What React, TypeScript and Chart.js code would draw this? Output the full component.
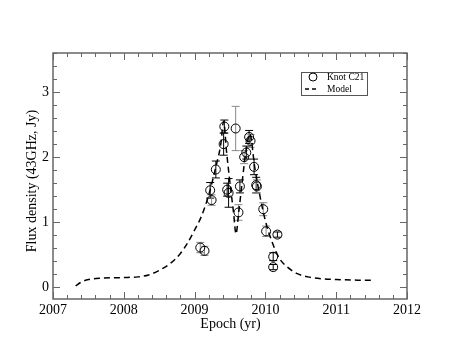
import React, { useEffect, useRef } from "react";
import { Chart, registerables } from "chart.js";

Chart.register(...registerables);

// Observed knot C21 flux densities
const obsEpoch = [2009.08, 2009.14, 2009.22, 2009.24, 2009.30, 2009.41, 2009.42, 2009.46, 2009.48, 2009.58, 2009.62, 2009.64, 2009.70, 2009.73, 2009.77, 2009.79, 2009.84, 2009.87, 2009.88, 2009.97, 2010.01, 2010.17, 2010.11, 2010.11];
const obsFlux = [0.61, 0.56, 1.49, 1.34, 1.81, 2.20, 2.47, 1.50, 1.45, 2.44, 1.15, 1.55, 2.00, 2.07, 2.31, 2.25, 1.85, 1.57, 1.55, 1.20, 0.86, 0.81, 0.47, 0.31];
const obsErr = [0.08, 0.07, 0.12, 0.08, 0.13, 0.17, 0.10, 0.10, 0.22, 0.34, 0.12, 0.10, 0.10, 0.10, 0.10, 0.10, 0.12, 0.12, 0.10, 0.10, 0.08, 0.04, 0.06, 0.04];
const obsErrGrey = [1, 1, 0, 1, 0, 0, 0, 0, 0, 1, 1, 0, 1, 0, 0, 1, 0, 0, 1, 1, 1, 0, 0, 0];

// Model light curve
const modelEpoch = [2007.32, 2007.40, 2007.50, 2007.70, 2008.00, 2008.20, 2008.35, 2008.50, 2008.65, 2008.80, 2008.90, 2009.00, 2009.10, 2009.20, 2009.30, 2009.37, 2009.41, 2009.45, 2009.50, 2009.55, 2009.585, 2009.62, 2009.67, 2009.72, 2009.78, 2009.85, 2009.92, 2010.00, 2010.10, 2010.20, 2010.30, 2010.45, 2010.60, 2010.80, 2011.00, 2011.30, 2011.52];
const modelFlux = [0.02, 0.08, 0.12, 0.14, 0.15, 0.16, 0.19, 0.26, 0.36, 0.52, 0.68, 0.88, 1.10, 1.42, 1.85, 2.20, 2.55, 2.10, 1.60, 1.15, 0.82, 1.12, 1.60, 2.05, 2.36, 1.84, 1.42, 1.02, 0.68, 0.44, 0.32, 0.21, 0.16, 0.13, 0.12, 0.11, 0.11];

const xTickValues = [2007, 2008, 2009, 2010, 2011, 2012];
const yTickValues = [0, 1, 2, 3];

const xTitle = "Epoch (yr)";
const yTitle = "Flux density (43GHz, Jy)";
const legendObs = "Knot C21";
const legendModel = "Model";

const SERIF = "'Liberation Serif', 'Times New Roman', serif";
const AXIS_COLOR = "#666666";

const errorBarPlugin = {
  id: "errorBars",
  beforeDatasetsDraw(chart: any) {
    const ctx = chart.ctx;
    const xs = chart.scales.x;
    const ys = chart.scales.y;
    ctx.save();
    ctx.lineWidth = 1;
    for (let i = 0; i < obsEpoch.length; i++) {
      const px = xs.getPixelForValue(obsEpoch[i]);
      const top = ys.getPixelForValue(obsFlux[i] + obsErr[i]);
      const bot = ys.getPixelForValue(obsFlux[i] - obsErr[i]);
      ctx.strokeStyle = obsErrGrey[i] ? "#888888" : "#000000";
      ctx.beginPath();
      ctx.moveTo(px, top);
      ctx.lineTo(px, bot);
      ctx.moveTo(px - 4, top);
      ctx.lineTo(px + 4, top);
      ctx.moveTo(px - 4, bot);
      ctx.lineTo(px + 4, bot);
      ctx.stroke();
    }
    ctx.restore();
  },
};

const framePlugin = {
  id: "frameTicks",
  afterDraw(chart: any) {
    const ctx = chart.ctx;
    const { left, right, top, bottom } = chart.chartArea;
    const xs = chart.scales.x;
    const ys = chart.scales.y;
    ctx.save();
    ctx.strokeStyle = AXIS_COLOR;
    ctx.lineWidth = 1.5;
    ctx.strokeRect(left, top, right - left, bottom - top);
    ctx.lineWidth = 1;
    ctx.beginPath();
    // x ticks
    for (let k = 0; k <= 25; k++) {
      const v = 2007 + k * 0.2;
      const px = Math.round(xs.getPixelForValue(v)) + 0.5;
      const len = k % 5 === 0 ? 7 : 4;
      ctx.moveTo(px, bottom);
      ctx.lineTo(px, bottom - len);
      ctx.moveTo(px, top);
      ctx.lineTo(px, top + len);
    }
    // y ticks
    for (let k = 0; k <= 18; k++) {
      const v = k * 0.2;
      const py = Math.round(ys.getPixelForValue(v)) + 0.5;
      if (py < top || py > bottom) continue;
      const len = k % 5 === 0 ? 7 : 4;
      ctx.moveTo(left, py);
      ctx.lineTo(left + len, py);
      ctx.moveTo(right, py);
      ctx.lineTo(right - len, py);
    }
    ctx.stroke();

    // axis titles
    ctx.fillStyle = "#000000";
    ctx.font = "14px " + SERIF;
    ctx.textAlign = "center";
    ctx.textBaseline = "middle";
    ctx.fillText(xTitle, (left + right) / 2 + 0.5, 324);
    ctx.save();
    ctx.translate(32, 181);
    ctx.rotate(-Math.PI / 2);
    ctx.fillText(yTitle, 0, 0);
    ctx.restore();

    // legend
    const bx = 301, by = 72, bw = 66, bh = 23;
    ctx.strokeStyle = "#555555";
    ctx.lineWidth = 1;
    ctx.strokeRect(bx + 0.5, by + 0.5, bw, bh);
    ctx.strokeStyle = "#000000";
    ctx.beginPath();
    ctx.arc(313, 77, 4, 0, Math.PI * 2);
    ctx.stroke();
    ctx.lineWidth = 1.5;
    ctx.setLineDash([4, 3]);
    ctx.beginPath();
    ctx.moveTo(305, 89);
    ctx.lineTo(317, 89);
    ctx.stroke();
    ctx.setLineDash([]);
    ctx.font = "9.5px " + SERIF;
    ctx.textAlign = "left";
    ctx.textBaseline = "middle";
    ctx.fillText(legendObs, 327, 77);
    ctx.fillText(legendModel, 327, 89);
    ctx.restore();
  },
};

export default function App() {
  const canvasRef = useRef<HTMLCanvasElement | null>(null);

  useEffect(() => {
    document.body.style.margin = "0";
    const canvas = canvasRef.current;
    if (!canvas) return;
    const chart = new Chart(canvas, {
      type: "scatter",
      data: {
        datasets: [
          {
            label: legendModel,
            data: modelEpoch.map((x, i) => ({ x, y: modelFlux[i] })),
            showLine: true,
            borderColor: "#000000",
            borderWidth: 1.5,
            borderDash: [6, 4],
            pointRadius: 0,
            cubicInterpolationMode: "monotone",
            fill: false,
          } as any,
          {
            label: legendObs,
            data: obsEpoch.map((x, i) => ({ x, y: obsFlux[i] })),
            showLine: false,
            pointStyle: "circle",
            pointRadius: 4.5,
            pointBorderWidth: 1,
            pointBorderColor: "#000000",
            pointBackgroundColor: "rgba(0,0,0,0)",
          } as any,
        ],
      },
      options: {
        animation: false,
        responsive: false,
        maintainAspectRatio: false,
        devicePixelRatio: 1,
        layout: { padding: { left: 0, top: 53, right: 51, bottom: 0 } },
        plugins: {
          legend: { display: false },
          tooltip: { enabled: false },
        },
        scales: {
          x: {
            type: "linear",
            min: 2007,
            max: 2012,
            grid: { display: false, drawTicks: false },
            border: { display: false },
            afterBuildTicks: (s: any) => {
              s.ticks = xTickValues.map((v) => ({ value: v }));
            },
            afterFit: (s: any) => {
              s.height = 55;
            },
            ticks: {
              color: "#000000",
              padding: 3,
              maxRotation: 0,
              autoSkip: false,
              font: { family: SERIF, size: 14 },
              callback: (v: any) => String(v),
            },
          },
          y: {
            type: "linear",
            min: -0.18,
            max: 3.6,
            grid: { display: false, drawTicks: false },
            border: { display: false },
            afterBuildTicks: (s: any) => {
              s.ticks = yTickValues.map((v) => ({ value: v }));
            },
            afterFit: (s: any) => {
              s.width = 53;
            },
            ticks: {
              color: "#000000",
              padding: 4,
              autoSkip: false,
              font: { family: SERIF, size: 14 },
              callback: (v: any) => String(v),
            },
          },
        },
      },
      plugins: [errorBarPlugin, framePlugin],
    });
    return () => chart.destroy();
  }, []);

  return (
    <div style={{ position: "absolute", left: 0, top: 0, width: 458, height: 354, background: "#ffffff" }}>
      <canvas ref={canvasRef} width={458} height={354} style={{ width: 458, height: 354, display: "block" }} />
    </div>
  );
}
